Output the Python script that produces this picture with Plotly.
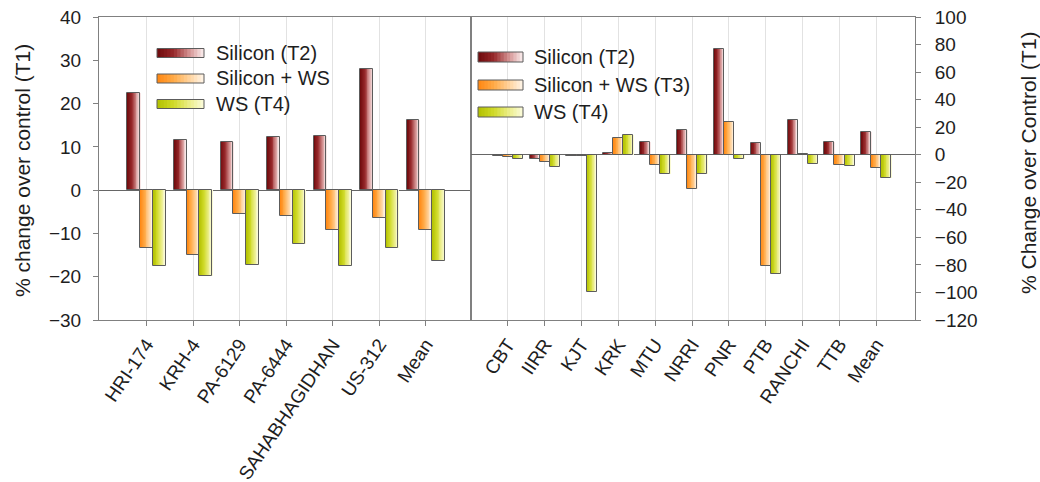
import plotly.graph_objects as go

# ---- data -------------------------------------------------------------
genotypes = ["HRI-174", "KRH-4", "PA-6129", "PA-6444", "SAHABHAGIDHAN", "US-312", "Mean"]
geno_silicon = [22.5, 11.5, 11.1, 12.3, 12.5, 28.0, 16.3]
geno_silicon_ws = [-13.4, -14.9, -5.6, -5.9, -9.2, -6.4, -9.2]
geno_ws = [-17.6, -19.8, -17.4, -12.5, -17.6, -13.3, -16.3]

locations = ["CBT", "IIRR", "KJT", "KRK", "MTU", "NRRI", "PNR", "PTB", "RANCHI", "TTB", "Mean"]
loc_silicon = [-0.8, -2.9, -1.0, 1.2, 9.2, 18.2, 77.0, 8.7, 25.0, 9.0, 16.2]
loc_silicon_ws = [-1.8, -5.0, -1.0, 12.1, -7.5, -25.0, 23.7, -81.0, 0.5, -7.3, -9.4]
loc_ws = [-2.8, -8.7, -100.0, 14.0, -14.0, -13.8, -3.4, -86.4, -7.0, -8.2, -16.7]

left_names = ["Silicon (T2)", "Silicon + WS", "WS (T4)"]
right_names = ["Silicon (T2)", "Silicon + WS (T3)", "WS (T4)"]

# ---- styling ----------------------------------------------------------
FONT = "Liberation Sans, Arial, sans-serif"
TXT = "#1e1e1e"
AXIS = "#808080"
OUTLINE = "#5c5c5c"
GRID = "#e2e2e2"

# horizontal gradient stops (dark on the left, pale on the right)
GRADIENTS = [
    [(0.0, (110, 10, 12)), (0.35, (150, 40, 42)), (0.7, (214, 150, 150)), (1.0, (252, 240, 240))],
    [(0.0, (255, 134, 16)), (0.35, (255, 170, 70)), (0.7, (255, 212, 160)), (1.0, (255, 246, 234))],
    [(0.0, (178, 192, 0)), (0.35, (208, 218, 40)), (0.7, (236, 238, 140)), (1.0, (252, 252, 222))],
]
N_SLICES = 14


def grad_color(stops, t):
    for (t0, c0), (t1, c1) in zip(stops[:-1], stops[1:]):
        if t <= t1:
            f = (t - t0) / (t1 - t0) if t1 > t0 else 0
            c = [round(a + (b - a) * f) for a, b in zip(c0, c1)]
            return f"rgb({c[0]},{c[1]},{c[2]})"
    c = stops[-1][1]
    return f"rgb({c[0]},{c[1]},{c[2]})"


W, H = 1040, 482
ML, MR, MT, MB = 99, 125, 17, 162
PW, PH = W - ML - MR, H - MT - MB
SPLIT = (471 - ML) / PW


def px(x):
    return (x - ML) / PW


def py(y):
    return 1 - (y - MT) / PH


GROUP = 0.82
BW = GROUP / 3

fig = go.Figure()


def add_panel(cats, series, xa, ya):
    for s, vals in enumerate(series):
        start = -GROUP / 2 + s * BW
        for k in range(N_SLICES):
            fig.add_trace(go.Bar(
                x=cats, y=vals,
                offset=start + k * BW / N_SLICES,
                width=BW - k * BW / N_SLICES,
                marker=dict(color=grad_color(GRADIENTS[s], (k + 0.5) / N_SLICES),
                            line=dict(width=0)),
                xaxis=xa, yaxis=ya, showlegend=False, hoverinfo="skip",
            ))
        fig.add_trace(go.Bar(
            x=cats, y=vals, offset=start, width=BW,
            marker=dict(color="rgba(0,0,0,0)", line=dict(color=OUTLINE, width=1)),
            xaxis=xa, yaxis=ya, showlegend=False, hoverinfo="skip",
        ))


add_panel(genotypes, [geno_silicon, geno_silicon_ws, geno_ws], "x", "y")
add_panel(locations, [loc_silicon, loc_silicon_ws, loc_ws], "x2", "y2")

# ---- legends drawn as gradient swatches ---------------------------------
shapes = []
annotations = []


def add_legend(names, x0, x1, centers, text_x, sw_h):
    for s, (name, cy) in enumerate(zip(names, centers)):
        for k in range(N_SLICES):
            xa = x0 + (x1 - x0) * k / N_SLICES
            shapes.append(dict(
                type="rect", xref="paper", yref="paper",
                x0=px(xa), x1=px(x1), y0=py(cy + sw_h / 2), y1=py(cy - sw_h / 2),
                fillcolor=grad_color(GRADIENTS[s], (k + 0.5) / N_SLICES),
                line=dict(width=0), layer="above",
            ))
        shapes.append(dict(
            type="rect", xref="paper", yref="paper",
            x0=px(x0), x1=px(x1), y0=py(cy + sw_h / 2), y1=py(cy - sw_h / 2),
            line=dict(color=OUTLINE, width=1), fillcolor="rgba(0,0,0,0)", layer="above",
        ))
        annotations.append(dict(
            text=name, xref="paper", yref="paper", x=px(text_x), y=py(cy),
            xanchor="left", yanchor="middle", showarrow=False,
            font=dict(family=FONT, size=20, color=TXT),
        ))


add_legend(left_names, 157, 204, [53, 78.5, 104], 214, 9)
add_legend(right_names, 478, 523, [57, 85, 112], 532, 10)

# axis titles
annotations.append(dict(
    text="% change over control (T1)", xref="paper", yref="paper",
    x=px(22), y=py(171), textangle=-90, showarrow=False,
    xanchor="center", yanchor="middle",
    font=dict(family=FONT, size=21, color=TXT),
))
annotations.append(dict(
    text="% Change over Control (T1)", xref="paper", yref="paper",
    x=px(1028), y=py(163), textangle=-90, showarrow=False,
    xanchor="center", yanchor="middle",
    font=dict(family=FONT, size=21, color=TXT),
))

common_x = dict(
    type="category", tickangle=-56, ticks="outside", ticklen=5, tickcolor=AXIS,
    showgrid=True, gridcolor=GRID, gridwidth=1, showline=True, linecolor=AXIS,
    linewidth=1, mirror=True, tickfont=dict(family=FONT, size=19, color=TXT),
    zeroline=False, automargin=False,
)
common_y = dict(
    ticks="outside", ticklen=5, tickcolor=AXIS, showgrid=False, showline=True,
    linecolor=AXIS, linewidth=1, mirror=True, zeroline=True, zerolinecolor="#666666",
    zerolinewidth=1, tickfont=dict(family=FONT, size=19, color=TXT), automargin=False,
)

fig.update_layout(
    width=W, height=H,
    margin=dict(l=ML, r=MR, t=MT, b=MB),
    paper_bgcolor="white", plot_bgcolor="white",
    barmode="overlay", bargap=0,
    showlegend=False,
    xaxis=dict(domain=[0, SPLIT], anchor="y", range=[-1.02, 6.97], **common_x),
    yaxis=dict(domain=[0, 1], anchor="x", range=[-30, 40], dtick=10,
               ticklabelstandoff=8, **common_y),
    xaxis2=dict(domain=[SPLIT, 1], anchor="y2", range=[-1.0, 11.05], **common_x),
    yaxis2=dict(domain=[0, 1], anchor="x2", side="right", range=[-120, 100], dtick=20,
                ticklabelstandoff=10, **common_y),
    shapes=shapes,
    annotations=annotations,
)

fig.write_html("out.html")
